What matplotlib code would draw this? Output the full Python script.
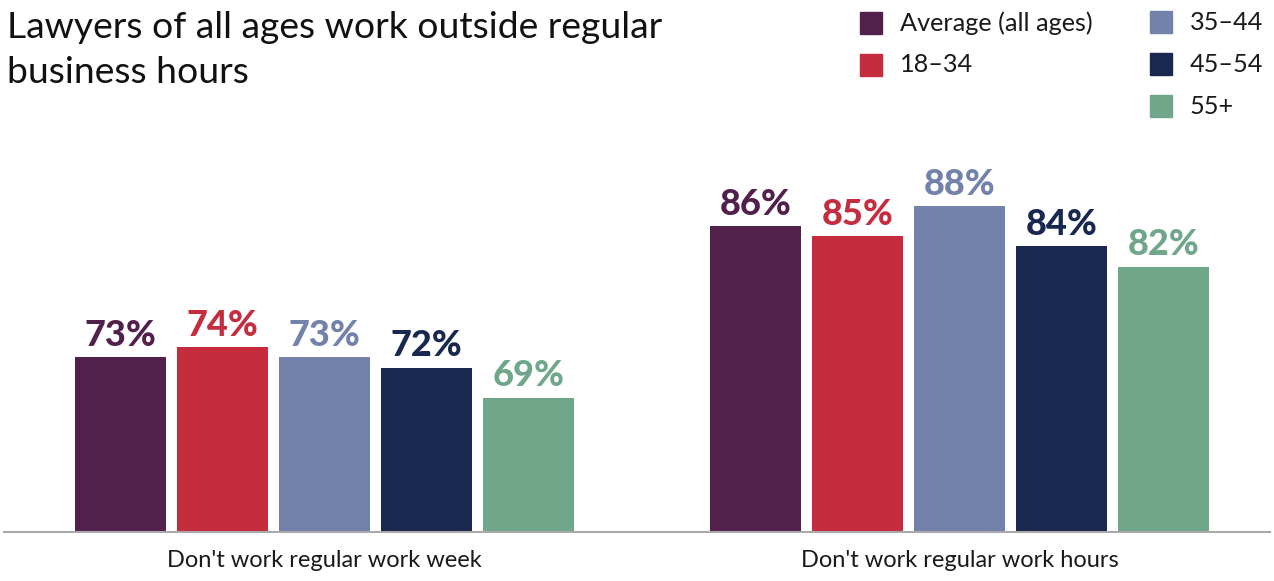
import matplotlib
matplotlib.use("Agg")
import matplotlib.pyplot as plt
from matplotlib.patches import Rectangle

categories = ["Don't work regular work week", "Don't work regular work hours"]
series_names = ["Average (all ages)", "18\u201334", "35\u201344", "45\u201354", "55+"]
values = {
    "Average (all ages)": [73, 86],
    "18\u201334": [74, 85],
    "35\u201344": [73, 88],
    "45\u201354": [72, 84],
    "55+": [69, 82],
}
colors = ["#52214B", "#C52D3F", "#7282AA", "#18284E", "#70A78A"]

plt.rcParams['font.family'] = ['Lato', 'DejaVu Sans']

W, H = 1274, 581
fig = plt.figure(figsize=(W / 100, H / 100), dpi=100)

ax_left_px, ax_right_px = 4, 1270
ax_bottom_px, ax_top_px = 532, 85
ax = fig.add_axes([ax_left_px / W, (H - ax_bottom_px) / H,
                   (ax_right_px - ax_left_px) / W, (ax_bottom_px - ax_top_px) / H])

step_px = 102.0
g1_center_px = 324.5
group_centers = [0.0, 635 / step_px]
bar_w = 0.9

for i, name in enumerate(series_names):
    for g, gc in enumerate(group_centers):
        x = gc + (i - 2)
        v = values[name][g]
        ax.bar(x, v, width=bar_w, color=colors[i], bottom=0)
        ax.annotate(f"{v}%", (x, v), xytext=(0, 4), textcoords="offset points",
                    ha="center", va="bottom", fontsize=26, fontweight="black",
                    color=colors[i])

ax.set_xlim((ax_left_px - g1_center_px) / step_px, (ax_right_px - g1_center_px) / step_px)
ax.set_ylim(55.7, 100)
for s in ["top", "right", "left"]:
    ax.spines[s].set_visible(False)
ax.spines["bottom"].set_color("#AAAAAA")
ax.spines["bottom"].set_linewidth(1.5)
ax.set_yticks([])
ax.set_xticks(group_centers)
ax.set_xticklabels(categories, fontsize=17, color="#1a1a1a")
ax.tick_params(axis="x", length=0, pad=13)

# Title
fig.text(7 / W, 1 - 11 / H, "Lawyers of all ages work outside regular\nbusiness hours",
         ha="left", va="top", fontsize=26.8, color="#111111", linespacing=1.45)

# Legend
leg_items = [(860, 23, 0), (860, 65, 1), (1150, 22, 2), (1150, 64, 3), (1150, 106, 4)]
for px, py, i in leg_items:
    sz = 22
    fig.patches.append(Rectangle((px / W, 1 - (py + sz / 2) / H), sz / W, sz / H,
                                 transform=fig.transFigure, color=colors[i], figure=fig))
    fig.text((px + 40) / W, 1 - py / H, series_names[i], ha="left", va="center",
             fontsize=18.2, color="#1a1a1a")

fig.savefig("out.png", dpi=100)
